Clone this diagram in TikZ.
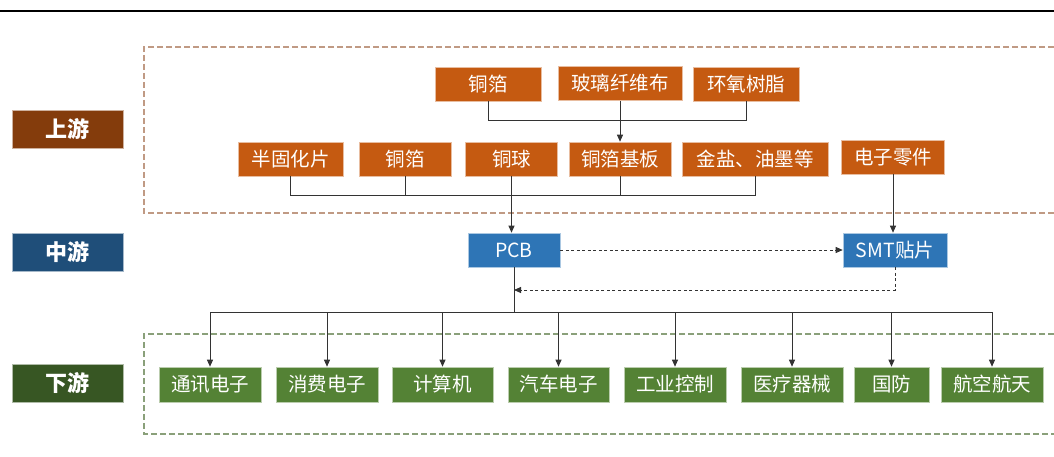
\documentclass[tikz,border=0pt]{standalone}
\usepackage{fontspec}
\newfontfamily\cjk{Noto Sans CJK SC}
\usetikzlibrary{arrows.meta}
\definecolor{orangebox}{HTML}{C55A11}
\definecolor{bluebox}{HTML}{2E75B6}
\definecolor{greenbox}{HTML}{548235}
\definecolor{uplab}{HTML}{843C0C}
\definecolor{midlab}{HTML}{1F4E79}
\definecolor{downlab}{HTML}{375623}
\definecolor{updash}{HTML}{C09A84}
\definecolor{downdash}{HTML}{8AA07A}
\definecolor{linegray}{HTML}{333333}
\tikzset{
  base/.style={inner sep=0pt, text=white, font=\cjk\fontsize{19.5}{22}\selectfont, line width=0.6pt},
  obox/.style={base, fill=orangebox, draw=orangebox!40!white, minimum height=34pt},
  bbox/.style={base, fill=bluebox, draw=bluebox!40!white, minimum height=34pt},
  gbox/.style={base, fill=greenbox, draw=greenbox!40!white, minimum height=35pt},
  lab/.style={inner sep=0pt, text=white, font=\cjk\bfseries\fontsize{22}{24}\selectfont, minimum width=111pt, minimum height=38pt, line width=0.6pt},
  conn/.style={draw=linegray, line width=0.9pt},
  arr/.style={conn, -{Triangle[length=7pt,width=6pt]}},
  darr/.style={draw=linegray, line width=0.9pt, dash pattern=on 3pt off 2.5pt, -{Triangle[length=7pt,width=6pt]}},
  dashbox/.style={line width=1.1pt, dash pattern=on 6pt off 3pt}
}
\begin{document}
\begin{tikzpicture}[x=1pt,y=-1pt]
\useasboundingbox (0,0) rectangle (1054,457);
\fill[white] (0,0) rectangle (1054,457);
% top rule
\draw[line width=2.6pt, black] (0,11) -- (1054,11);
% dashed group frames
\draw[dashbox, draw=updash] (1054,47) -- (144,47) -- (144,213) -- (1054,213);
\draw[dashbox, draw=downdash] (1054,334) -- (144,334) -- (144,434) -- (1054,434);
% left labels
\node[lab, fill=uplab, draw=uplab!40!white] (up) at (67.5,129) {上游};
\node[lab, fill=midlab, draw=midlab!40!white] (mid) at (67.5,252) {中游};
\node[lab, fill=downlab, draw=downlab!40!white] (down) at (67.5,383) {下游};
% row 1
\node[obox, minimum width=106pt] (a1) at (488,84) {铜箔};
\node[obox, minimum width=124pt] (a2) at (620,83.5) {玻璃纤维布};
\node[obox, minimum width=106pt] (a3) at (746,84) {环氧树脂};
% row 2
\node[obox, minimum width=105pt] (b1) at (290.5,159) {半固化片};
\node[obox, minimum width=92pt] (b2) at (405,159) {铜箔};
\node[obox, minimum width=92pt] (b3) at (511.5,159) {铜球};
\node[obox, minimum width=102pt] (b4) at (620,159) {铜箔基板};
\node[obox, minimum width=146pt] (b5) at (755,159) {金盐、油墨等};
\node[obox, minimum width=103pt] (c1) at (893,157) {电子零件};
% middle
\node[bbox, minimum width=92pt] (pcb) at (514,250) {PCB};
\node[bbox, minimum width=104pt] (smt) at (895,250) {SMT贴片};
% bottom row
\node[gbox, minimum width=102pt] (d1) at (210,384.5) {通讯电子};
\node[gbox, minimum width=102pt] (d2) at (327,384.5) {消费电子};
\node[gbox, minimum width=101pt] (d3) at (442.5,384.5) {计算机};
\node[gbox, minimum width=101pt] (d4) at (558.5,384.5) {汽车电子};
\node[gbox, minimum width=102pt] (d5) at (675,384.5) {工业控制};
\node[gbox, minimum width=102pt] (d6) at (792,384.5) {医疗器械};
\node[gbox, minimum width=75pt] (d7) at (891.5,384.5) {国防};
\node[gbox, minimum width=102pt] (d8) at (992,384.5) {航空航天};
% bus coordinates
\coordinate (bus1) at (0,120);
\coordinate (bus2) at (0,195);
\coordinate (ret) at (0,290);
\coordinate (bus3) at (0,312);
% row 1 connectors
\draw[conn] (a1.south) -- (a1.south |- bus1) -- (a3.south |- bus1) -- (a3.south);
\draw[arr] (a2.south) -- (b4.north);
% row 2 connectors
\draw[conn] (b1.south) -- (b1.south |- bus2) -- (b5.south |- bus2) -- (b5.south);
\draw[conn] (b2.south) -- (b2.south |- bus2);
\draw[conn] (b4.south) -- (b4.south |- bus2);
\draw[arr] (b3.south) -- (b3.south |- pcb.north);
\draw[arr] (c1.south) -- (c1.south |- smt.north);
% middle dashed
\draw[darr] (pcb.east) -- (smt.west);
\draw[darr] (smt.south) -- (smt.south |- ret) -- (pcb.south |- ret);
% downstream
\draw[conn] (pcb.south) -- (pcb.south |- bus3);
\draw[conn] (d1.north |- bus3) -- (d8.north |- bus3);
\foreach \n in {d1,d2,d3,d4,d5,d6,d7,d8}{
  \draw[arr] (\n.north |- bus3) -- (\n.north);
}
\end{tikzpicture}
\end{document}
